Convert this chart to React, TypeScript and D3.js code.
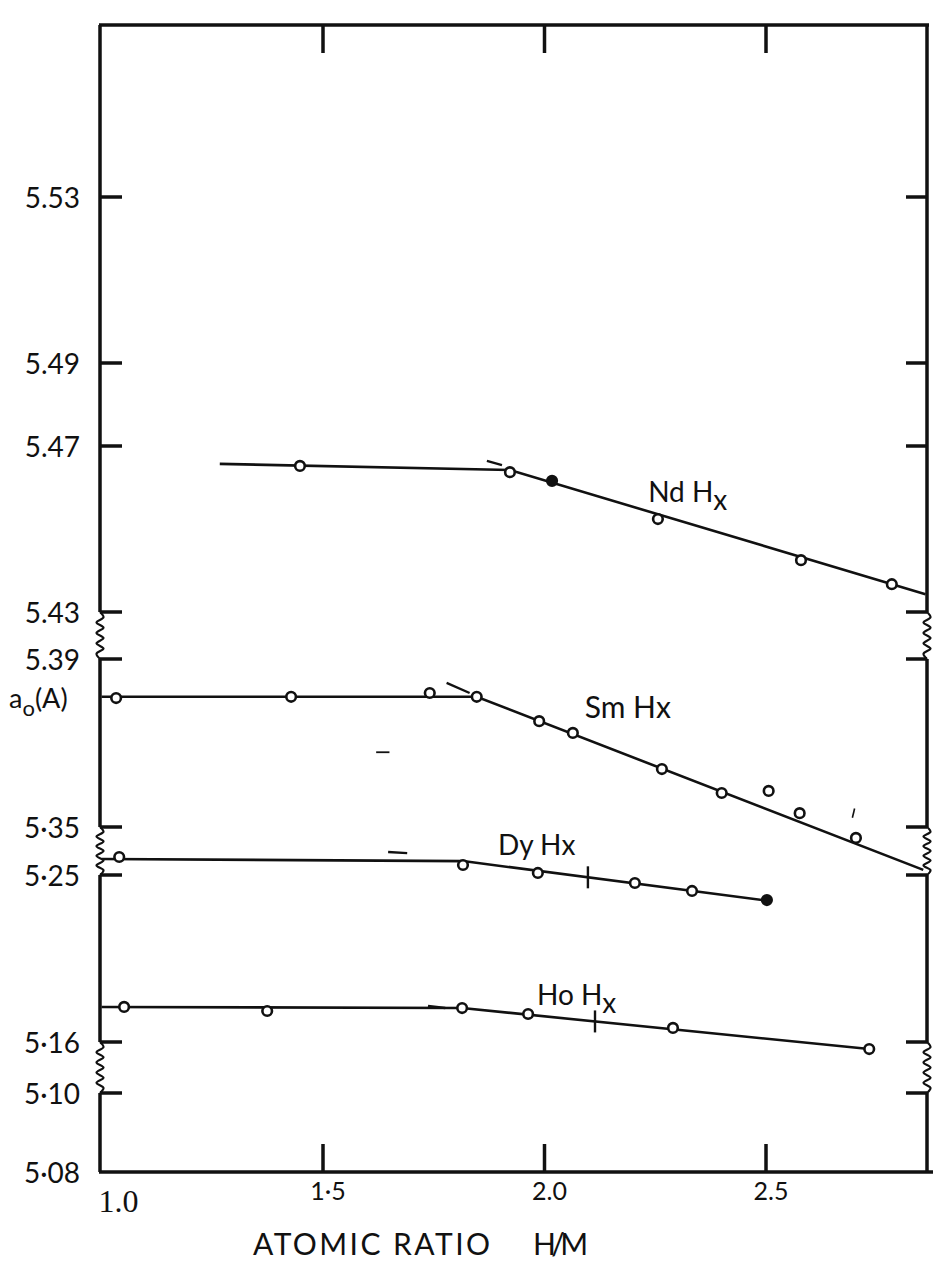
import { useEffect, useRef } from 'react';
import * as d3 from 'd3';

const WIDTH = 933;
const HEIGHT = 1266;
const FONT = 'Lato, "Open Sans", sans-serif';
const INK = '#111';

// ── x axis ──────────────────────────────────────────────────────────────
const X_TICKS = [1.0, 1.5, 2.0, 2.5];
const X_TICK_LABELS = ['1.0', '1·5', '2.0', '2.5'];

// ── y axis: broken into four pieces ─────────────────────────────────────
const ND_TICKS = [5.53, 5.49, 5.47, 5.43];
const ND_TICK_LABELS = ['5.53', '5.49', '5.47', '5.43'];
const SM_TICKS = [5.39, 5.35];
const SM_TICK_LABELS = ['5.39', '5·35'];
const DY_TICKS = [5.25, 5.16];
const DY_TICK_LABELS = ['5·25', '5·16'];
const LOW_TICKS = [5.1, 5.08];
const LOW_TICK_LABELS = ['5·10', '5·08'];

// ── NdHx ────────────────────────────────────────────────────────────────
const ND_X = [1.448, 1.922, 2.017, 2.256, 2.579, 2.784];
const ND_Y = [5.4652, 5.4637, 5.4616, 5.4524, 5.4425, 5.4367];
const ND_FILLED = [false, false, true, false, false, false];
const ND_LINE_X = [1.267, 1.922, 2.86];
const ND_LINE_Y = [5.4657, 5.4642, 5.4343];
const ND_DASH_X = [1.87, 1.904];
const ND_DASH_Y = [5.4664, 5.4654];

// ── SmHx ────────────────────────────────────────────────────────────────
const SM_X = [1.033, 1.428, 1.741, 1.847, 1.988, 2.064, 2.265, 2.4, 2.506, 2.576, 2.703];
const SM_Y = [5.3807, 5.381, 5.3819, 5.381, 5.3752, 5.3724, 5.3638, 5.3581, 5.3586, 5.3533, 5.3474];
const SM_LINE_X = [1.0, 1.847, 2.855];
const SM_LINE_Y = [5.381, 5.381, 5.3398];
const SM_DASH_X = [1.779, 1.831];
const SM_DASH_Y = [5.3843, 5.3819];

// ── DyHx ────────────────────────────────────────────────────────────────
const DY_X = [1.04, 1.816, 1.985, 2.204, 2.333, 2.502];
const DY_Y = [5.2597, 5.2554, 5.2511, 5.2457, 5.2414, 5.2365];
const DY_FILLED = [false, false, false, false, false, true];
const DY_LINE_X = [1.0, 1.816, 2.509];
const DY_LINE_Y = [5.2586, 5.2575, 5.236];
const DY_DASH_X = [1.647, 1.69];
const DY_DASH_Y = [5.2624, 5.2618];
const DY_CROSS = 2.098;

// ── HoHx ────────────────────────────────────────────────────────────────
const HO_X = [1.051, 1.374, 1.814, 1.963, 2.29, 2.733];
const HO_Y = [5.1789, 5.1767, 5.1783, 5.1751, 5.1676, 5.1562];
const HO_LINE_X = [1.0, 1.814, 2.733];
const HO_LINE_Y = [5.1789, 5.1783, 5.1562];
const HO_DASH_X = [1.737, 1.776];
const HO_DASH_Y = [5.1794, 5.1783];
const HO_CROSS = 2.114;

// stray pen marks on the sheet (x, value on the Sm / Nd piece)
const STRAY_DASH_X = [1.62, 1.65];
const STRAY_DASH_SM = [5.3678, 5.3678];
const STRAY_TICK_X = [2.70, 2.695];
const STRAY_TICK_SM = [5.3544, 5.3522];

type SegKey = 'nd' | 'sm' | 'dy' | 'low';

interface Series {
  seg: SegKey;
  xs: number[];
  ys: number[];
  filled?: boolean[];
  lineX: number[];
  lineY: number[];
  dashX: number[];
  dashY: number[];
  cross?: number;
  label: { main: string; sub?: string; x: number; y: number; size: number };
}

const SERIES: Series[] = [
  {
    seg: 'nd', xs: ND_X, ys: ND_Y, filled: ND_FILLED,
    lineX: ND_LINE_X, lineY: ND_LINE_Y, dashX: ND_DASH_X, dashY: ND_DASH_Y,
    label: { main: 'Nd H', sub: 'x', x: 2.234, y: 5.4565, size: 28 },
  },
  {
    seg: 'sm', xs: SM_X, ys: SM_Y,
    lineX: SM_LINE_X, lineY: SM_LINE_Y, dashX: SM_DASH_X, dashY: SM_DASH_Y,
    label: { main: 'Sm Hx', x: 2.091, y: 5.376, size: 30 },
  },
  {
    seg: 'dy', xs: DY_X, ys: DY_Y, filled: DY_FILLED,
    lineX: DY_LINE_X, lineY: DY_LINE_Y, dashX: DY_DASH_X, dashY: DY_DASH_Y,
    cross: DY_CROSS,
    label: { main: 'Dy Hx', x: 1.895, y: 5.2608, size: 28 },
  },
  {
    seg: 'dy', xs: HO_X, ys: HO_Y,
    lineX: HO_LINE_X, lineY: HO_LINE_Y, dashX: HO_DASH_X, dashY: HO_DASH_Y,
    cross: HO_CROSS,
    label: { main: 'Ho H', sub: 'x', x: 1.983, y: 5.18, size: 28 },
  },
];

export default function App() {
  const svgRef = useRef<SVGSVGElement>(null);

  useEffect(() => {
    if (!svgRef.current) return;
    const svg = d3.select(svgRef.current);
    svg.selectAll('*').remove();

    const frame = { left: 100, right: 927, top: 25, bottom: 1172 };

    const x = d3.scaleLinear().domain([1.0, 2.5]).range([101.5, 766]);
    const yScales: Record<SegKey, d3.ScaleLinear<number, number>> = {
      nd: d3.scaleLinear().domain([5.43, 5.53]).range([612, 197]),
      sm: d3.scaleLinear().domain([5.35, 5.39]).range([827, 659]),
      dy: d3.scaleLinear().domain([5.16, 5.25]).range([1042, 875]),
      low: d3.scaleLinear().domain([5.08, 5.1]).range([1172, 1093]),
    };

    // ── Frame with axis breaks ────────────────────────────────────────────
    const breaks: [number, number][] = [
      [yScales.nd(5.43), yScales.sm(5.39)],
      [yScales.sm(5.35), yScales.dy(5.25)],
      [yScales.dy(5.16), yScales.low(5.1)],
    ];

    const axisG = svg.append('g').attr('stroke', INK).attr('fill', 'none');

    // top + bottom
    axisG.append('line')
      .attr('x1', frame.left - 1).attr('x2', frame.right + 2)
      .attr('y1', frame.top).attr('y2', frame.top)
      .attr('stroke-width', 3.5);
    axisG.append('line')
      .attr('x1', frame.left - 1).attr('x2', WIDTH)
      .attr('y1', frame.bottom).attr('y2', frame.bottom)
      .attr('stroke-width', 3.5);

    const squiggle = (xc: number, y0: number, y1: number) => {
      const n = Math.max(4, Math.round((y1 - y0) / 5));
      const pts: [number, number][] = d3.range(n + 1).map(i => [
        i === 0 || i === n ? xc : xc + (i % 2 ? 3.5 : -3.5),
        y0 + ((y1 - y0) * i) / n,
      ]);
      return d3.line().curve(d3.curveCatmullRom)(pts);
    };

    [frame.left, frame.right].forEach(xc => {
      const stops = [frame.top, ...breaks.flat(), frame.bottom];
      for (let i = 0; i < stops.length; i += 2) {
        axisG.append('line')
          .attr('x1', xc).attr('x2', xc)
          .attr('y1', stops[i]).attr('y2', stops[i + 1])
          .attr('stroke-width', 3.5);
      }
      breaks.forEach(([a, b]) => {
        axisG.append('path')
          .attr('d', squiggle(xc, a, b))
          .attr('stroke-width', 2.2);
      });
    });

    // ── y ticks + labels ──────────────────────────────────────────────────
    const yTickSets: { seg: SegKey; ticks: number[]; labels: string[] }[] = [
      { seg: 'nd', ticks: ND_TICKS, labels: ND_TICK_LABELS },
      { seg: 'sm', ticks: SM_TICKS, labels: SM_TICK_LABELS },
      { seg: 'dy', ticks: DY_TICKS, labels: DY_TICK_LABELS },
      { seg: 'low', ticks: LOW_TICKS, labels: LOW_TICK_LABELS },
    ];

    yTickSets.forEach(({ seg, ticks, labels }) => {
      const y = yScales[seg];
      ticks.forEach((t, i) => {
        const py = y(t);
        if (py < frame.bottom - 1) {
          axisG.append('line')
            .attr('x1', frame.left).attr('x2', frame.left + 22)
            .attr('y1', py).attr('y2', py)
            .attr('stroke-width', 3.5);
          axisG.append('line')
            .attr('x1', frame.right).attr('x2', frame.right - 21)
            .attr('y1', py).attr('y2', py)
            .attr('stroke-width', 3.5);
        }
        svg.append('text')
          .attr('x', 80)
          .attr('y', py + 11)
          .attr('text-anchor', 'end')
          .attr('font-family', FONT)
          .attr('font-size', 28)
          .attr('fill', INK)
          .text(labels[i]);
      });
    });

    // ── x ticks + labels ──────────────────────────────────────────────────
    X_TICKS.forEach((t, i) => {
      const px = x(t);
      if (i > 0) {
        axisG.append('line')
          .attr('x1', px).attr('x2', px)
          .attr('y1', frame.top).attr('y2', frame.top + 28)
          .attr('stroke-width', 3.5);
        axisG.append('line')
          .attr('x1', px).attr('x2', px)
          .attr('y1', frame.bottom).attr('y2', frame.bottom - 28)
          .attr('stroke-width', 3.5);
      }
      const first = i === 0;
      svg.append('text')
        .attr('x', px + (first ? 17 : 5))
        .attr('y', first ? 1212 : 1200)
        .attr('text-anchor', 'middle')
        .attr('font-family', first ? '"Liberation Serif", serif' : FONT)
        .attr('font-size', first ? 32 : 25)
        .attr('fill', INK)
        .text(X_TICK_LABELS[i]);
    });

    // ── axis titles ───────────────────────────────────────────────────────
    svg.append('text')
      .attr('x', 253).attr('y', 1255)
      .attr('font-family', FONT).attr('font-size', 30).attr('fill', INK)
      .attr('textLength', 237).attr('lengthAdjust', 'spacing')
      .text('ATOMIC RATIO');
    svg.append('text')
      .attr('x', 533).attr('y', 1255)
      .attr('font-family', FONT).attr('font-size', 30).attr('fill', INK)
      .attr('textLength', 55).attr('lengthAdjust', 'spacing')
      .text('H/M');

    const yTitle = svg.append('text')
      .attr('x', 9).attr('y', 708)
      .attr('font-family', FONT).attr('font-size', 27).attr('fill', INK);
    yTitle.append('tspan').text('a');
    yTitle.append('tspan').attr('dy', 8).attr('font-size', 22).text('o');
    yTitle.append('tspan').attr('dy', -8).text('(A)');

    // ── stray pen marks ───────────────────────────────────────────────────
    const ySm = yScales.sm;
    svg.append('line')
      .attr('x1', x(STRAY_DASH_X[0])).attr('x2', x(STRAY_DASH_X[1]))
      .attr('y1', ySm(STRAY_DASH_SM[0])).attr('y2', ySm(STRAY_DASH_SM[1]))
      .attr('stroke', INK).attr('stroke-width', 1.8);
    svg.append('line')
      .attr('x1', x(STRAY_TICK_X[0])).attr('x2', x(STRAY_TICK_X[1]))
      .attr('y1', ySm(STRAY_TICK_SM[0])).attr('y2', ySm(STRAY_TICK_SM[1]))
      .attr('stroke', INK).attr('stroke-width', 1.6);

    // ── Series ────────────────────────────────────────────────────────────
    SERIES.forEach(s => {
      const y = yScales[s.seg];
      const g = svg.append('g');

      const linePts: [number, number][] = s.lineX.map((v, i) => [x(v), y(s.lineY[i])]);
      g.append('path')
        .attr('d', d3.line()(linePts))
        .attr('fill', 'none')
        .attr('stroke', INK)
        .attr('stroke-width', 2.6);

      g.append('line')
        .attr('x1', x(s.dashX[0])).attr('y1', y(s.dashY[0]))
        .attr('x2', x(s.dashX[1])).attr('y2', y(s.dashY[1]))
        .attr('stroke', INK)
        .attr('stroke-width', 2.4);

      if (s.cross != null) {
        const onLine = d3.scaleLinear().domain(s.lineX).range(s.lineY.map(v => y(v)));
        const cy = onLine(s.cross);
        g.append('line')
          .attr('x1', x(s.cross)).attr('x2', x(s.cross))
          .attr('y1', cy - 11).attr('y2', cy + 11)
          .attr('stroke', INK)
          .attr('stroke-width', 2.4);
      }

      g.selectAll('circle')
        .data(s.xs)
        .join('circle')
        .attr('cx', d => x(d))
        .attr('cy', (_, i) => y(s.ys[i]))
        .attr('r', 4.8)
        .attr('fill', (_, i) => (s.filled && s.filled[i] ? INK : '#fff'))
        .attr('stroke', INK)
        .attr('stroke-width', 2.6);

      const t = g.append('text')
        .attr('x', x(s.label.x))
        .attr('y', y(s.label.y))
        .attr('font-family', FONT)
        .attr('font-size', s.label.size)
        .attr('fill', INK);
      t.append('tspan').text(s.label.main);
      if (s.label.sub) {
        t.append('tspan').attr('dy', 8).text(s.label.sub);
      }
    });
  }, []);

  return (
    <div style={{ position: 'absolute', left: 0, top: 0, width: WIDTH, height: HEIGHT, background: '#fff' }}>
      <svg ref={svgRef} width={WIDTH} height={HEIGHT} style={{ display: 'block' }} />
    </div>
  );
}
